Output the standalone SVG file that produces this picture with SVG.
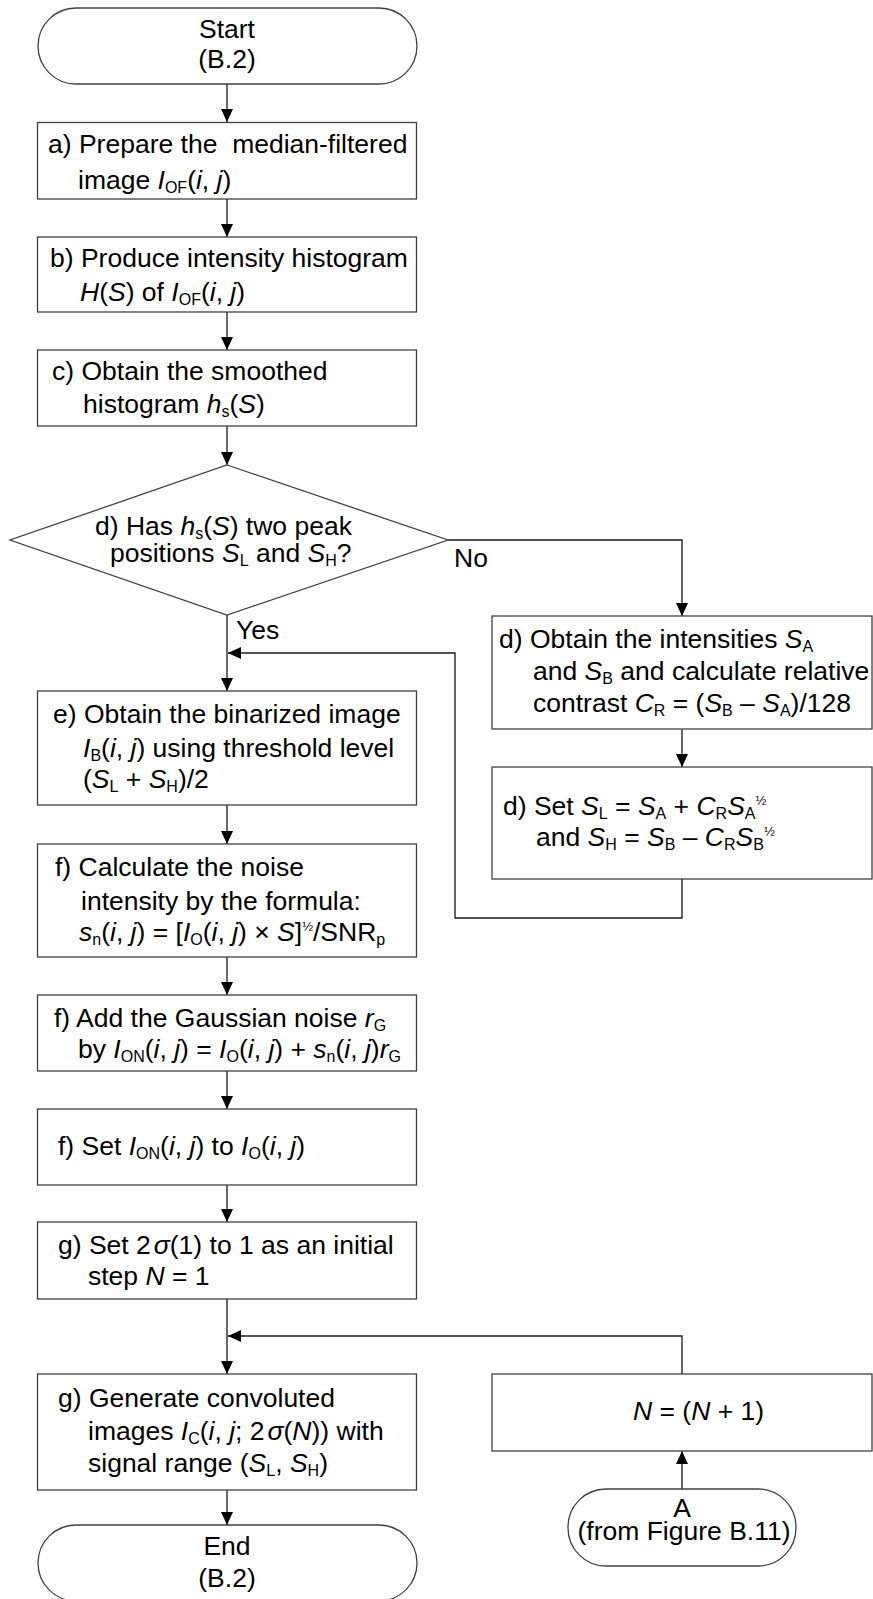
<svg xmlns="http://www.w3.org/2000/svg" width="873" height="1599" viewBox="0 0 873 1599">
<style>
text{font-family:"Liberation Sans",Arial,sans-serif;font-size:26.5px;fill:#000}
.i{font-style:italic}
.sub{font-size:16px}
.sup{font-size:13px}
.c{text-anchor:middle}
.box{fill:#fff;stroke:#404040;stroke-width:1.3}
.ln{fill:none;stroke:#1a1a1a;stroke-width:1.3}
</style>
<defs>
<marker id="ah" markerWidth="13" markerHeight="12" refX="13" refY="6" orient="auto" markerUnits="userSpaceOnUse">
<path d="M0,0 L13,6 L0,12 z" fill="#000"/>
</marker>
</defs>
<rect width="873" height="1599" fill="#fff"/>
<g id="connectors">
<path class="ln" d="M227,84 V122" marker-end="url(#ah)"/>
<path class="ln" d="M227,199 V237" marker-end="url(#ah)"/>
<path class="ln" d="M227,312 V350" marker-end="url(#ah)"/>
<path class="ln" d="M227,426 V465" marker-end="url(#ah)"/>
<path class="ln" d="M227,615 V691" marker-end="url(#ah)"/>
<path class="ln" d="M448,540 H682 V616" marker-end="url(#ah)"/>
<path class="ln" d="M682,729 V767" marker-end="url(#ah)"/>
<path class="ln" d="M682,879 V918 H455 V653 H228" marker-end="url(#ah)"/>
<path class="ln" d="M227,805 V844" marker-end="url(#ah)"/>
<path class="ln" d="M227,957 V995" marker-end="url(#ah)"/>
<path class="ln" d="M227,1071 V1109" marker-end="url(#ah)"/>
<path class="ln" d="M227,1185 V1222" marker-end="url(#ah)"/>
<path class="ln" d="M227,1299 V1374" marker-end="url(#ah)"/>
<path class="ln" d="M682,1374 V1336 H228" marker-end="url(#ah)"/>
<path class="ln" d="M682,1489 V1451" marker-end="url(#ah)"/>
<path class="ln" d="M227,1490 V1525" marker-end="url(#ah)"/>
</g>
<g id="start">
<rect class="box" x="38" y="8" width="379" height="76" rx="38"/>
<text class="c" x="227" y="38">Start</text>
<text class="c" x="227" y="68">(B.2)</text>
</g>
<g id="a">
<rect class="box" x="37.5" y="122.5" width="379" height="76.5"/>
<text x="48" y="153" xml:space="preserve">a) Prepare the  median-filtered</text>
<text x="78" y="189">image <tspan class="i">I</tspan><tspan class="sub" dy="4">OF</tspan><tspan dy="-4">(</tspan><tspan class="i">i</tspan>, <tspan class="i">j</tspan>)</text>
</g>
<g id="b">
<rect class="box" x="37.5" y="237" width="379" height="75"/>
<text x="50" y="267">b) Produce intensity histogram</text>
<text x="80" y="301"><tspan class="i">H</tspan>(<tspan class="i">S</tspan>) of <tspan class="i">I</tspan><tspan class="sub" dy="4">OF</tspan><tspan dy="-4">(</tspan><tspan class="i">i</tspan>, <tspan class="i">j</tspan>)</text>
</g>
<g id="c">
<rect class="box" x="37.5" y="350" width="379" height="76"/>
<text x="52" y="380">c) Obtain the smoothed</text>
<text x="83" y="413">histogram <tspan class="i">h</tspan><tspan class="sub" dy="4">s</tspan><tspan dy="-4">(</tspan><tspan class="i">S</tspan>)</text>
</g>
<g id="d">
<polygon class="box" points="227,465 448,540 227,615 10,540"/>
<text x="95" y="535">d) Has <tspan class="i">h</tspan><tspan class="sub" dy="4">s</tspan><tspan dy="-4">(</tspan><tspan class="i">S</tspan>) two peak</text>
<text x="110" y="562">positions <tspan class="i">S</tspan><tspan class="sub" dy="4">L</tspan><tspan dy="-4"> and </tspan><tspan class="i">S</tspan><tspan class="sub" dy="4">H</tspan><tspan dy="-4">?</tspan></text>
</g>
<g id="labels">
<text x="454" y="567">No</text>
<text x="236" y="639">Yes</text>
</g>
<g id="d1">
<rect class="box" x="492" y="616" width="380" height="113"/>
<text x="499" y="648">d) Obtain the intensities <tspan class="i">S</tspan><tspan class="sub" dy="4">A</tspan></text>
<text x="533" y="680">and <tspan class="i">S</tspan><tspan class="sub" dy="4">B</tspan><tspan dy="-4"> and calculate relative</tspan></text>
<text x="533" y="712">contrast <tspan class="i">C</tspan><tspan class="sub" dy="4">R</tspan><tspan dy="-4"> = (</tspan><tspan class="i">S</tspan><tspan class="sub" dy="4">B</tspan><tspan dy="-4"> – </tspan><tspan class="i">S</tspan><tspan class="sub" dy="4">A</tspan><tspan dy="-4">)/128</tspan></text>
</g>
<g id="d2">
<rect class="box" x="492" y="767" width="380" height="112"/>
<text x="503" y="815">d) Set <tspan class="i">S</tspan><tspan class="sub" dy="4">L</tspan><tspan dy="-4"> = </tspan><tspan class="i">S</tspan><tspan class="sub" dy="4">A</tspan><tspan dy="-4"> + </tspan><tspan class="i">C</tspan><tspan class="sub" dy="4">R</tspan><tspan class="i" dy="-4">S</tspan><tspan class="sub" dy="4">A</tspan><tspan class="sup" dy="-14">½</tspan></text>
<text x="536" y="846">and <tspan class="i">S</tspan><tspan class="sub" dy="4">H</tspan><tspan dy="-4"> = </tspan><tspan class="i">S</tspan><tspan class="sub" dy="4">B</tspan><tspan dy="-4"> – </tspan><tspan class="i">C</tspan><tspan class="sub" dy="4">R</tspan><tspan class="i" dy="-4">S</tspan><tspan class="sub" dy="4">B</tspan><tspan class="sup" dy="-14">½</tspan></text>
</g>
<g id="e">
<rect class="box" x="37.5" y="691" width="379" height="114"/>
<text x="53" y="723">e) Obtain the binarized image</text>
<text x="83" y="757"><tspan class="i">I</tspan><tspan class="sub" dy="4">B</tspan><tspan dy="-4">(</tspan><tspan class="i">i</tspan>, <tspan class="i">j</tspan>) using threshold level</text>
<text x="83" y="788">(<tspan class="i">S</tspan><tspan class="sub" dy="4">L</tspan><tspan dy="-4"> + </tspan><tspan class="i">S</tspan><tspan class="sub" dy="4">H</tspan><tspan dy="-4">)/2</tspan></text>
</g>
<g id="f1">
<rect class="box" x="37.5" y="844" width="379" height="113"/>
<text x="55" y="876">f) Calculate the noise</text>
<text x="81" y="910">intensity by the formula:</text>
<text x="79" y="941"><tspan class="i">s</tspan><tspan class="sub" dy="4">n</tspan><tspan dy="-4">(</tspan><tspan class="i">i</tspan>, <tspan class="i">j</tspan>) = [<tspan class="i">I</tspan><tspan class="sub" dy="4">O</tspan><tspan dy="-4">(</tspan><tspan class="i">i</tspan>, <tspan class="i">j</tspan>) × <tspan class="i">S</tspan>]<tspan class="sup" dy="-10">½</tspan><tspan dy="10">/SNR</tspan><tspan class="sub" dy="4">p</tspan></text>
</g>
<g id="f2">
<rect class="box" x="37.5" y="995" width="379" height="76"/>
<text x="54" y="1027">f) Add the Gaussian noise <tspan class="i">r</tspan><tspan class="sub" dy="4">G</tspan></text>
<text x="78" y="1058">by <tspan class="i">I</tspan><tspan class="sub" dy="4">ON</tspan><tspan dy="-4">(</tspan><tspan class="i">i</tspan>, <tspan class="i">j</tspan>) = <tspan class="i">I</tspan><tspan class="sub" dy="4">O</tspan><tspan dy="-4">(</tspan><tspan class="i">i</tspan>, <tspan class="i">j</tspan>) + <tspan class="i">s</tspan><tspan class="sub" dy="4">n</tspan><tspan dy="-4">(</tspan><tspan class="i">i</tspan>, <tspan class="i">j</tspan>)<tspan class="i">r</tspan><tspan class="sub" dy="4">G</tspan></text>
</g>
<g id="f3">
<rect class="box" x="37.5" y="1109" width="379" height="76"/>
<text x="58" y="1155">f) Set <tspan class="i">I</tspan><tspan class="sub" dy="4">ON</tspan><tspan dy="-4">(</tspan><tspan class="i">i</tspan>, <tspan class="i">j</tspan>) to <tspan class="i">I</tspan><tspan class="sub" dy="4">O</tspan><tspan dy="-4">(</tspan><tspan class="i">i</tspan>, <tspan class="i">j</tspan>)</text>
</g>
<g id="g1">
<rect class="box" x="37.5" y="1222" width="379" height="77"/>
<text x="58" y="1254">g) Set 2<tspan class="i" dx="3">σ</tspan>(1) to 1 as an initial</text>
<text x="88" y="1285">step <tspan class="i">N</tspan> = 1</text>
</g>
<g id="g2">
<rect class="box" x="37.5" y="1374" width="379" height="116"/>
<text x="58" y="1407">g) Generate convoluted</text>
<text x="88" y="1440">images <tspan class="i">I</tspan><tspan class="sub" dy="4">C</tspan><tspan dy="-4">(</tspan><tspan class="i">i</tspan>, <tspan class="i">j</tspan>; 2<tspan class="i" dx="3">σ</tspan>(<tspan class="i">N</tspan>)) with</text>
<text x="88" y="1472">signal range (<tspan class="i">S</tspan><tspan class="sub" dy="4">L</tspan><tspan dy="-4">, </tspan><tspan class="i">S</tspan><tspan class="sub" dy="4">H</tspan><tspan dy="-4">)</tspan></text>
</g>
<g id="end">
<rect class="box" x="38" y="1525" width="379" height="76" rx="38"/>
<text class="c" x="227" y="1555">End</text>
<text class="c" x="227" y="1587">(B.2)</text>
</g>
<g id="n">
<rect class="box" x="492" y="1374" width="380" height="77"/>
<text x="633" y="1420"><tspan class="i">N</tspan> = (<tspan class="i">N</tspan> + 1)</text>
</g>
<g id="A">
<rect class="box" x="568" y="1489" width="228" height="77" rx="38"/>
<text class="c" x="682" y="1517">A</text>
<text class="c" x="684" y="1540">(from Figure B.11)</text>
</g>
</svg>
